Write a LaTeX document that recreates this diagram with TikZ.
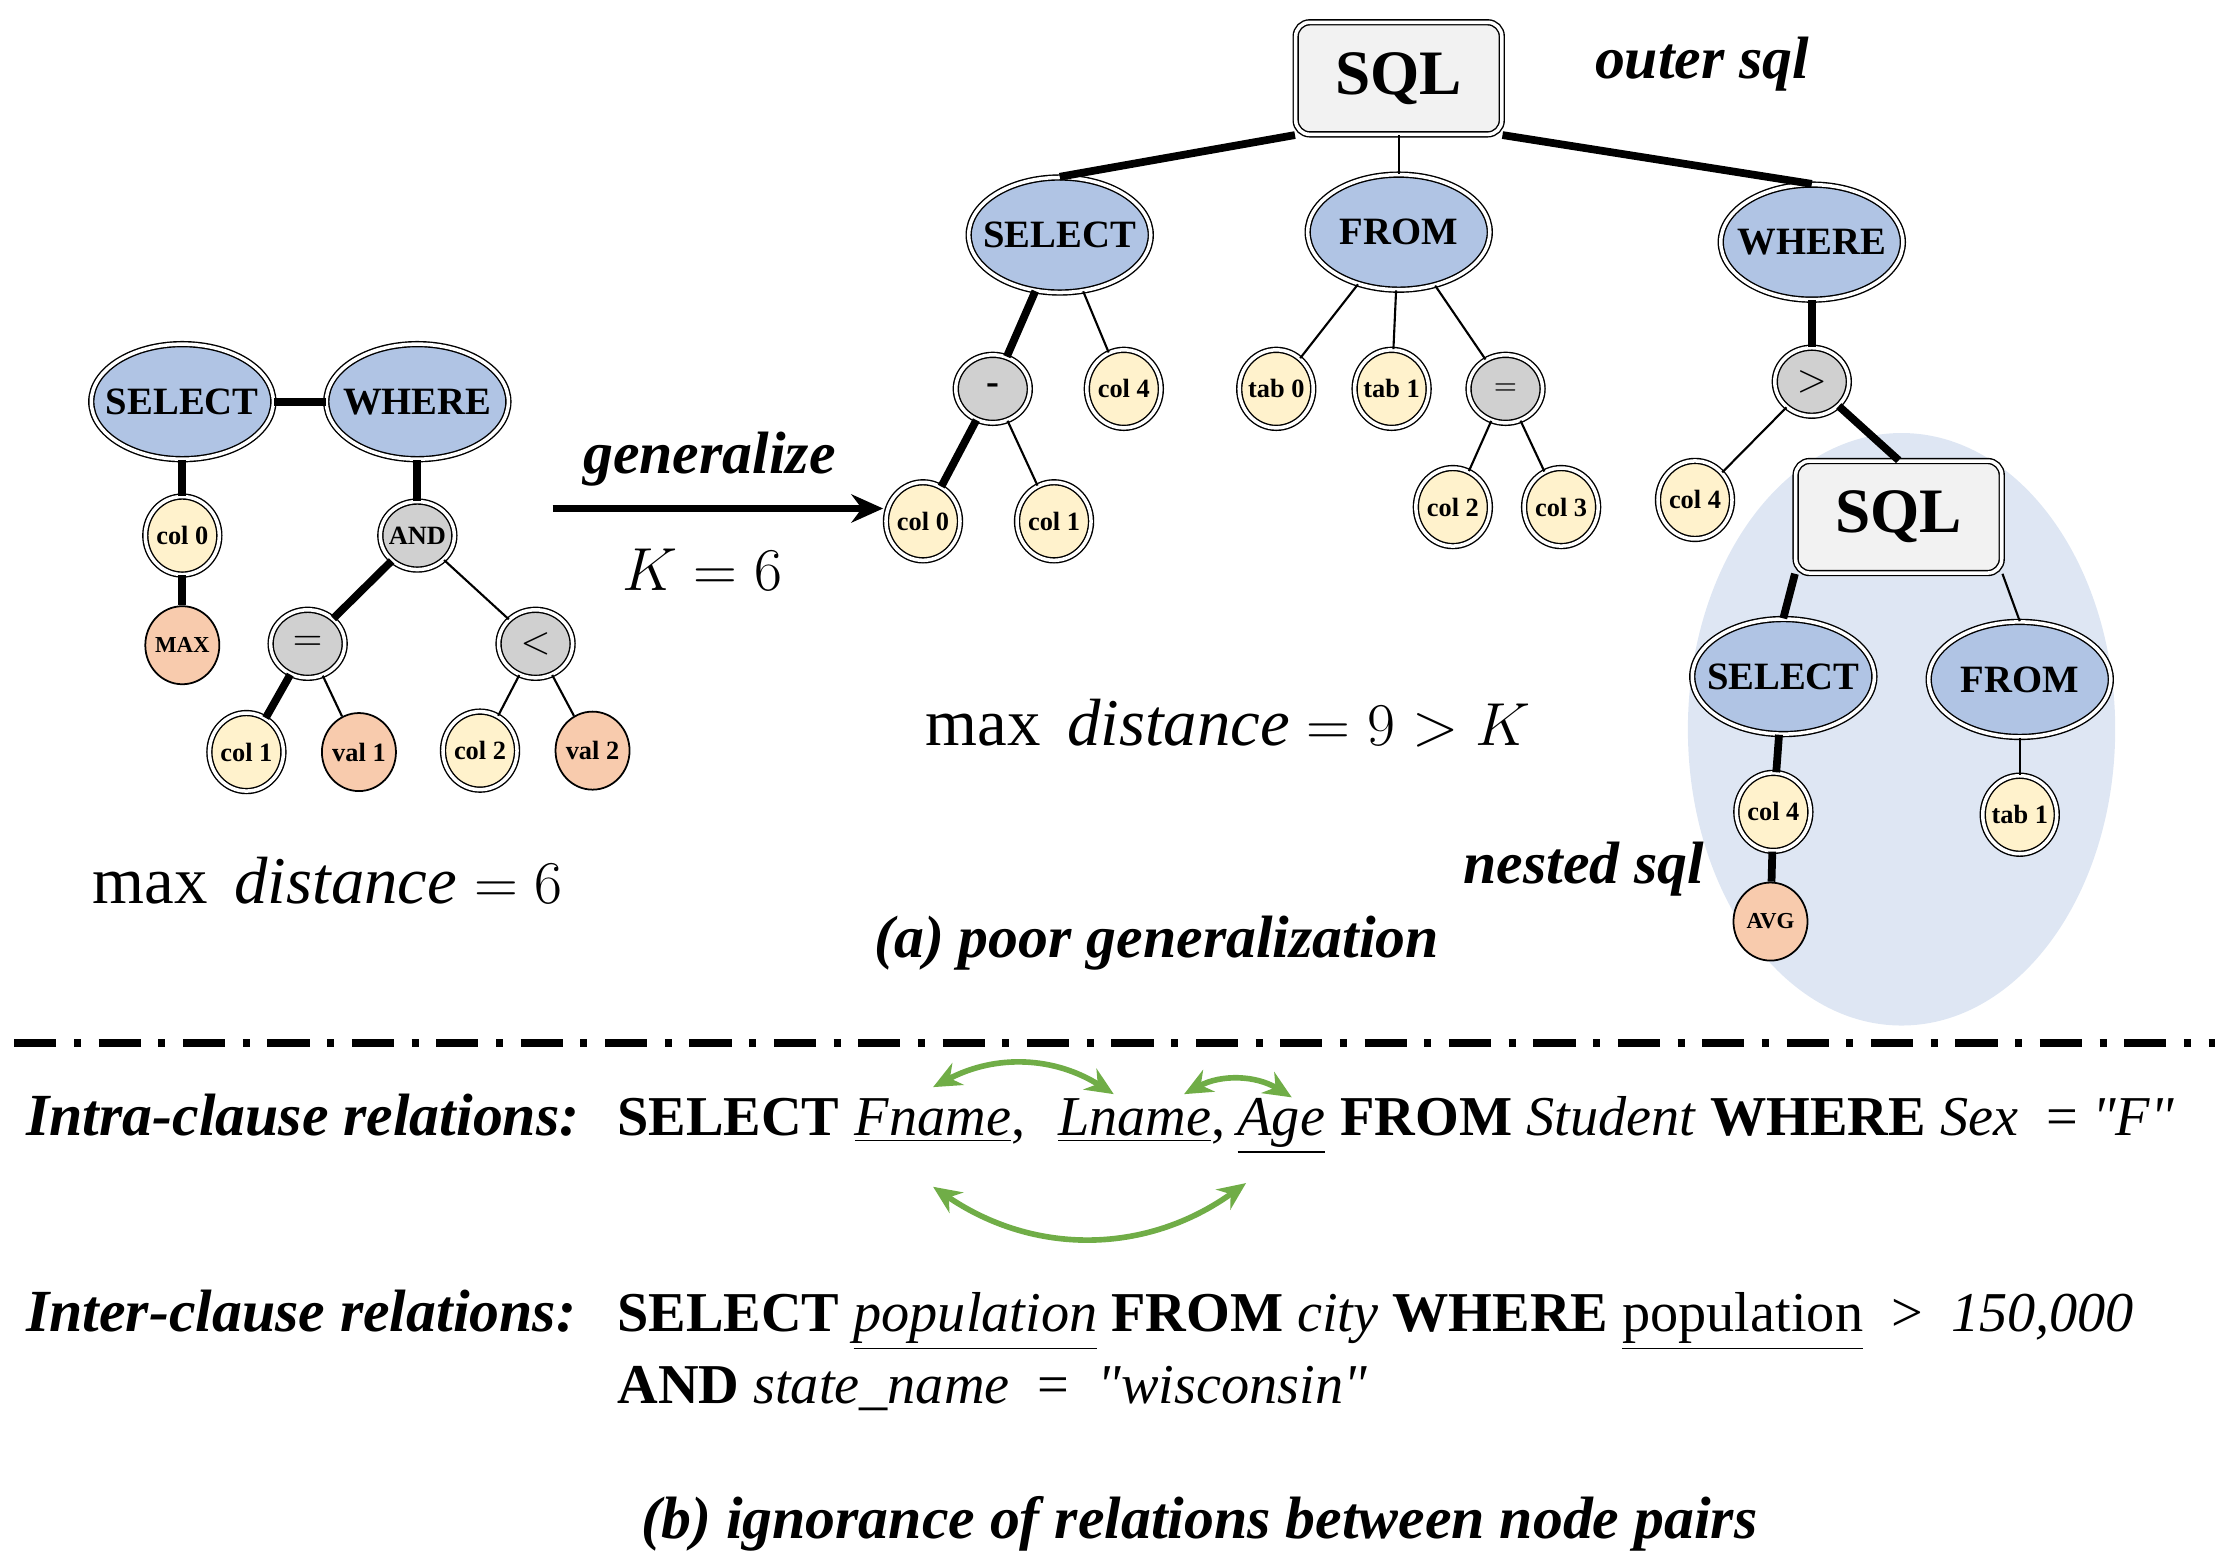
\documentclass[tikz,border=0pt]{standalone}
\usepackage{fontspec}
\setmainfont{Liberation Serif}
\usetikzlibrary{shapes.geometric,arrows.meta,positioning}
\definecolor{kwblue}{RGB}{176,196,228}
\definecolor{colyel}{RGB}{255,242,204}
\definecolor{valorg}{RGB}{248,203,173}
\definecolor{opgrey}{RGB}{208,208,208}
\definecolor{sqlbox}{RGB}{242,242,242}
\definecolor{nestblue}{RGB}{222,230,243}
\definecolor{relgreen}{RGB}{112,173,71}
\newcommand{\dq}{\textquotedbl}
\tikzset{
  dbl/.style={draw, double, double distance=1pt, line width=0.4pt, inner sep=0pt},
  kw/.style={dbl, ellipse, fill=kwblue, inner xsep=-5pt, minimum width=1.82cm, minimum height=1.15cm, font=\fontsize{11}{11}\selectfont\bfseries},
  col/.style={dbl, ellipse, fill=colyel, inner xsep=-2.5pt, minimum width=0.74cm, minimum height=0.78cm, font=\fontsize{7.5}{7.5}\selectfont\bfseries},
  val/.style={draw, ellipse, line width=0.5pt, inner sep=0pt, inner xsep=-2.5pt, fill=valorg, minimum width=0.74cm, minimum height=0.78cm, font=\fontsize{7.5}{7.5}\selectfont\bfseries},
  op/.style={dbl, ellipse, fill=opgrey, inner xsep=-2.5pt, minimum width=0.74cm, minimum height=0.68cm, font=\fontsize{11}{11}\selectfont\bfseries},
  sql/.style={dbl, rounded corners=4pt, fill=sqlbox, minimum width=2.06cm, minimum height=1.12cm, font=\fontsize{18}{18}\selectfont\bfseries},
  thk/.style={line width=2.2pt},
  thn/.style={line width=0.6pt},
  txt/.style={anchor=base west, inner sep=0pt, font=\fontsize{16}{16}\selectfont},
  rel/.style={relgreen, line width=1.6pt, {Stealth[length=8pt,width=7pt]}-{Stealth[length=8pt,width=7pt]}},
}
\begin{document}
\begin{tikzpicture}[x=0.014244cm, y=-0.014244cm]
\useasboundingbox (0,0) rectangle (1560,1095);
% nested sql background
\fill[nestblue] (1335,512) ellipse (150 and 208);
% left tree
\node[kw] (lsel) at (128,282) {SELECT};
\node[kw] (lwhr) at (293,282) {WHERE};
\node[col] (lc0) at (128,376) {col 0};
\node[val] (lmax) at (128,453) {\fontsize{6.5}{6.5}\selectfont MAX};
\node[op] (land) at (293,376) {\fontsize{7.5}{7.5}\selectfont AND};
\node[op] (leq) at (216,452) {$=$};
\node[op] (llt) at (376,452) {$<$};
\node[col] (lc1) at (173,528) {col 1};
\node[val] (lv1) at (252,528) {val 1};
\node[col] (lc2) at (337,527) {col 2};
\node[val] (lv2) at (416,527) {val 2};
\draw[thk] (lsel) -- (lwhr);
\draw[thk] (lsel) -- (lc0);
\draw[thk] (lc0) -- (lmax);
\draw[thk] (lwhr) -- (land);
\draw[thk] (land) -- (leq);
\draw[thn] (land) -- (llt);
\draw[thk] (leq) -- (lc1);
\draw[thn] (leq) -- (lv1);
\draw[thn] (llt) -- (lc2);
\draw[thn] (llt) -- (lv2);
% generalize arrow
\coordinate (gfrom) at (388,357);
\coordinate (gto) at (620,357);
\draw[line width=2pt, -{Stealth[length=9pt,width=8pt]}] (gfrom) -- (gto);
\node[font=\fontsize{17}{17}\selectfont\bfseries\itshape] (glab) at (498,322) {generalize};
\node[font=\fontsize{17}{17}\selectfont] (klab) at (493,400) {$K=6$};
\node[font=\fontsize{19}{19}\selectfont] (ldist) at (230,618) {$\max\ \mathit{distance}=6$};
% right tree
\node[sql] (osql) at (982,55) {SQL};
\node[font=\fontsize{17}{17}\selectfont\bfseries\itshape] (outl) at (1195,45) {outer sql};
\node[kw] (rsel) at (744,165) {SELECT};
\node[kw] (rfrm) at (982,163) {FROM};
\node[kw] (rwhr) at (1272,170) {WHERE};
\node[op] (rmin) at (697,273) {\textbf{-}};
\node[col] (rc4) at (789,273) {col 4};
\node[col] (rc0) at (648,366) {col 0};
\node[col] (rc1) at (740,366) {col 1};
\node[col] (rt0) at (896,273) {tab 0};
\node[col] (rt1) at (977,273) {tab 1};
\node[op] (req) at (1057,273) {\fontsize{8}{8}\selectfont$=$};
\node[col] (rc2) at (1020,356) {col 2};
\node[col] (rc3) at (1096,356) {col 3};
\node[op] (rgt) at (1272,268) {$>$};
\node[col] (rc4b) at (1190,351) {col 4};
\node[sql] (nsql) at (1333,363) {SQL};
\node[kw] (nsel) at (1252,475) {SELECT};
\node[kw] (nfrm) at (1418,477) {FROM};
\node[col] (nc4) at (1245,570) {col 4};
\node[val] (navg) at (1243,647) {\fontsize{6.5}{6.5}\selectfont AVG};
\node[col] (nt1) at (1418,572) {tab 1};
\draw[thk] (osql.south west) -- (rsel.north);
\draw[thn] (osql.south) -- (rfrm.north);
\draw[thk] (osql.south east) -- (rwhr.north);
\draw[thk] (rsel) -- (rmin);
\draw[thn] (rsel) -- (rc4);
\draw[thk] (rmin) -- (rc0);
\draw[thn] (rmin) -- (rc1);
\draw[thn] (rfrm) -- (rt0);
\draw[thn] (rfrm) -- (rt1);
\draw[thn] (rfrm) -- (req);
\draw[thn] (req) -- (rc2);
\draw[thn] (req) -- (rc3);
\draw[thk] (rwhr) -- (rgt);
\draw[thn] (rgt) -- (rc4b);
\draw[thk] (rgt) -- (nsql.north);
\draw[thk] (nsql.south west) -- (nsel.north);
\draw[thn] (nsql.south east) -- (nfrm.north);
\draw[thk] (nsel) -- (nc4);
\draw[thk] (nc4) -- (navg);
\draw[thn] (nfrm) -- (nt1);
\node[font=\fontsize{19}{19}\selectfont] (rdist) at (862,508) {$\max\ \mathit{distance}=9>K$};
\node[font=\fontsize{17}{17}\selectfont\bfseries\itshape] (nestl) at (1112,610) {nested sql};
\node[font=\fontsize{17}{17}\selectfont\bfseries\itshape] (capa) at (812,662) {(a) poor generalization};
% separator
\coordinate (sepl) at (10,732);
\coordinate (sepr) at (1555,732);
\draw[line width=2.2pt, dash pattern=on 12pt off 5pt on 2pt off 5pt] (sepl) -- (sepr);
% intra-clause
\node[txt, font=\fontsize{17}{17}\selectfont\bfseries\itshape] (intra) at (18,797) {Intra-clause relations:};
\node[txt] (s1) at (433,797) {\textbf{SELECT}};
\node[txt, xshift=4pt] (fn) at (s1.base east) {\underline{\textit{Fname}},};
\node[txt, xshift=9pt] (ln) at (fn.base east) {\underline{\textit{Lname}},};
\node[txt, xshift=3pt] (ag) at (ln.base east) {\underline{\textit{Age}}};
\node[txt, xshift=4pt] (rest1) at (ag.base east) {\textbf{FROM} \textit{Student} \textbf{WHERE} \textit{Sex}\hspace{8pt}= \textit{\dq F\dq}};
\draw[rel] ([xshift=-2pt,yshift=3pt]fn.north) to[bend left=30] ([xshift=-8pt,yshift=1pt]ln.north);
\draw[rel] ([xshift=-12pt,yshift=1pt]ln.north east) to[bend left=30] ([xshift=3pt,yshift=0pt]ag.north);
\draw[rel] ([xshift=-2pt,yshift=-12pt]fn.south) to[bend right=35] ([xshift=-10pt,yshift=-8pt]ag.south);
% inter-clause
\node[txt, font=\fontsize{17}{17}\selectfont\bfseries\itshape] (inter) at (18,935) {Inter-clause relations:};
\node[txt] (s2) at (433,935) {\textbf{SELECT} \underline{\textit{population}} \textbf{FROM} \textit{city} \textbf{WHERE} \underline{population}\hspace{8pt}>\hspace{8pt}\textit{150,000}};
\node[txt] (s3) at (433,985) {\textbf{AND} \textit{state\_name}\hspace{8pt}=\hspace{8pt}\textit{\dq wisconsin\dq}};
\node[font=\fontsize{17}{17}\selectfont\bfseries\itshape] (capb) at (842,1070) {(b) ignorance of relations between node pairs};
\end{tikzpicture}
\end{document}
